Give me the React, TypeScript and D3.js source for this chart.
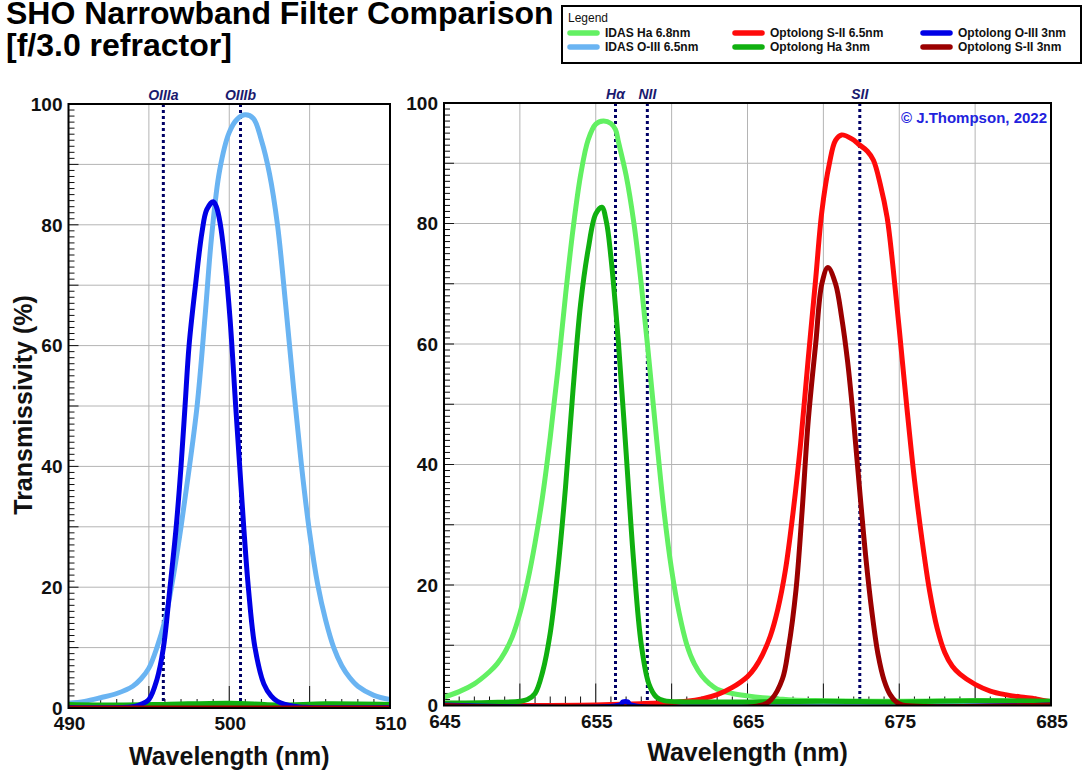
import React from 'react';
import * as d3 from 'd3';

type Pt = [number, number];

// ---------- DATA (wavelength nm, transmissivity %) ----------
const idasHa68: Pt[] = [
  [490, 0.3], [500, 0.3], [510, 0.3],
  [645, 1.4], [646, 2.3], [647, 3.6], [648, 5.6], [648.5, 6.9], [649, 8.8], [649.5, 11.4], [650, 15.3],
  [650.5, 20.5], [651, 27], [651.5, 34.8], [652, 44.5], [652.5, 55.6], [653, 67.9], [653.5, 79], [654, 88],
  [654.5, 93.9], [655, 96.5], [655.5, 97], [656, 96.6], [656.3, 95.6], [656.5, 93.5], [657, 88], [657.5, 80.3],
  [658, 69.9], [658.5, 57.5], [659, 44.5], [659.5, 32.2], [660, 22.5], [660.5, 15.3], [661, 10.1], [661.5, 6.9],
  [662, 4.9], [662.5, 3.6], [663, 2.7], [664, 2], [665, 1.6], [666, 1.3], [667, 1.1], [668, 0.9], [670, 0.8],
  [675, 0.7], [680, 0.8], [685, 0.7],
];

const idasOIII65: Pt[] = [
  [490, 0.8], [491, 1.1], [492, 1.7], [493, 2.4], [494, 3.6], [494.5, 4.8], [495, 6.6], [495.5, 10],
  [496, 14.5], [496.5, 21.5], [497, 30], [497.5, 39.5], [498, 50], [498.5, 65], [498.9, 78], [499.4, 89],
  [500, 95.3], [500.5, 97.5], [501, 98.2], [501.5, 97.6], [502, 94], [502.5, 88.5], [503, 80], [503.5, 67],
  [504, 53], [504.5, 40], [505, 29], [505.5, 20.5], [506, 14.5], [506.5, 10], [507, 7], [507.5, 5],
  [508, 3.6], [509, 2.1], [510, 1.4],
  [645, 0], [685, 0],
];

const optSII65: Pt[] = [
  [490, 0], [510, 0],
  [645, 0], [652, 0], [655, 0.1], [658, 0.3], [660, 0.5], [661, 0.7], [662, 1.1], [663, 1.8], [664, 3],
  [665, 4.8], [665.5, 6.3], [666, 8.5], [666.5, 11.5], [667, 16], [667.5, 22.5], [668, 32], [668.5, 43.5],
  [669, 57.5], [669.5, 71], [669.9, 82], [670.4, 90], [670.8, 93.8], [671.2, 94.7], [671.9, 94], [672.3, 93.2],
  [672.9, 92], [673.3, 90.5], [673.75, 86.5], [674.2, 81], [674.6, 72.5], [675, 62.5], [675.5, 49.5],
  [676, 37.5], [676.5, 27.5], [677, 19], [677.5, 12.8], [678, 8.8], [678.5, 6.5], [679, 5.2], [680, 3.5],
  [681, 2.4], [682, 1.8], [683, 1.4], [684, 1.1], [685, 0.6],
];

const optHa3: Pt[] = [
  [490, 0.6], [493, 0.5], [496, 0.6], [500, 0.8], [503, 0.5], [506, 0.7], [510, 0.6],
  [645, 0.4], [648, 0.5], [650, 0.7], [650.5, 1], [651, 2], [651.5, 5.6], [652, 12], [652.5, 22.5], [653, 36],
  [653.5, 52.3], [654, 66.6], [654.5, 75.7], [655, 81.6], [655.4, 82.7], [655.7, 80.3], [656, 74.4],
  [656.5, 60], [657, 42], [657.5, 23.8], [658, 10.1], [658.5, 3.6], [659, 1.4], [659.5, 0.8], [661, 0.6],
  [665, 0.6], [670, 0.7], [675, 0.6], [680, 0.8], [685, 0.7],
];

const optOIII3: Pt[] = [
  [490, 0.1], [494, 0.2], [494.5, 0.6], [495, 1.4], [495.5, 4.7], [495.9, 9.9], [496.3, 19.6], [496.7, 30],
  [497, 40], [497.25, 50], [497.5, 60], [497.9, 70], [498.3, 78.7], [498.6, 82.5], [499, 83.8], [499.2, 83],
  [499.45, 80], [499.75, 73.5], [500.05, 64.4], [500.4, 50], [500.65, 40], [500.9, 30], [501.2, 19.6],
  [501.6, 10], [502.15, 4], [502.6, 2], [503, 1.1], [504, 0.3], [505, 0.1], [510, 0.1],
  [645, 0.1], [656.6, 0.1], [656.8, 0.6], [657.1, 0.6], [657.3, 0.1], [685, 0.1],
];

const optSII3: Pt[] = [
  [490, 0], [510, 0],
  [645, 0], [666, 0.1], [666.6, 1.1], [667.3, 4.4], [667.7, 9.5], [668.2, 19.3], [668.6, 32.3], [669, 47.2],
  [669.5, 60.2], [669.9, 70], [670.3, 72.7], [670.8, 70], [671.2, 64.5], [671.6, 57], [672, 47],
  [672.4, 35.5], [672.8, 24.5], [673.2, 15.5], [673.6, 8.5], [674, 4.2], [674.4, 1.8], [674.8, 0.6],
  [675.2, 0.1], [685, 0.1],
];

const seriesNames = ['IDAS Ha 6.8nm', 'IDAS O-III 6.5nm', 'Optolong S-II 6.5nm', 'Optolong Ha 3nm', 'Optolong O-III 3nm', 'Optolong S-II 3nm'];
const seriesData = [idasHa68, idasOIII65, optSII65, optHa3, optOIII3, optSII3];
const seriesColors = ['#62f062', '#6ab4f2', '#ff0a0a', '#10b010', '#0000e6', '#9b0000'];

const leftTicksX = [490, 500, 510];
const rightTicksX = [645, 655, 665, 675, 685];
const yTicks = [0, 20, 40, 60, 80, 100];
const leftRefNames = ['OIIIa', 'OIIIb'];
const leftRefNm = [495.9, 500.7];
const rightRefNames = ['Hα', 'NII', 'SII'];
const rightRefNm = [656.3, 658.4, 672.4];

const FONT = "'Liberation Sans', Arial, Helvetica, sans-serif";
const NAVY = '#000066';

interface PanelCfg {
  id: string;
  x0: number; x1: number; y0: number; y1: number;
  domain: [number, number];
  ticks: number[];
  refNames: string[];
  refNm: number[];
  labelY: number;
  copyright?: boolean;
}

const panelCfgs: PanelCfg[] = [
  { id: 'L', x0: 68.5, x1: 390, y0: 104, y1: 708, domain: [490, 510], ticks: leftTicksX, refNames: leftRefNames, refNm: leftRefNm, labelY: 765 },
  { id: 'R', x0: 444, x1: 1051, y0: 103, y1: 705.5, domain: [645, 685], ticks: rightTicksX, refNames: rightRefNames, refNm: rightRefNm, labelY: 761, copyright: true },
];

function RefLabel({ name, x, y }: { name: string; x: number; y: number }) {
  return (
    <text x={x} y={y} textAnchor="middle" fontFamily={FONT} fontSize={14} fontWeight="bold" fontStyle="italic" fill="#1a1a6e">
      {name}
    </text>
  );
}

function Panel({ cfg }: { cfg: PanelCfg }) {
  const x = d3.scaleLinear().domain(cfg.domain).range([cfg.x0, cfg.x1]);
  const y = d3.scaleLinear().domain([0, 100]).range([cfg.y1, cfg.y0]);
  const [d0, d1] = cfg.domain;
  const gridX = d3.range(d0 + 5, d1, 5);
  const gridY = d3.range(10, 100, 10);
  const minorX = d3.range(d0 + 1, d1, 1);
  const minorY = d3.range(1, 100, 1);
  const line = d3.line<Pt>().x(d => x(d[0])).y(d => y(d[1])).curve(d3.curveCatmullRom.alpha(0.5));
  const clipId = 'clip' + cfg.id;
  return (
    <g>
      <defs>
        <clipPath id={clipId}>
          <rect x={cfg.x0} y={cfg.y0} width={cfg.x1 - cfg.x0} height={cfg.y1 - cfg.y0} />
        </clipPath>
      </defs>
      <rect x={cfg.x0} y={cfg.y0} width={cfg.x1 - cfg.x0} height={cfg.y1 - cfg.y0} fill="#fff" />
      {gridY.map(v => (
        <line key={'gy' + v} x1={cfg.x0} x2={cfg.x1} y1={y(v)} y2={y(v)} stroke="#b4b4b4" strokeWidth={1} />
      ))}
      {gridX.map(v => (
        <line key={'gx' + v} x1={x(v)} x2={x(v)} y1={cfg.y0} y2={cfg.y1} stroke="#b4b4b4" strokeWidth={1} />
      ))}
      {minorX.map(v => (
        <line key={'mx' + v} x1={x(v)} x2={x(v)} y1={cfg.y1} y2={cfg.y1 - (v % 5 === 0 ? 22 : 9)} stroke="#111" strokeWidth={1} />
      ))}
      {minorY.map(v => (
        <line key={'my' + v} x1={cfg.x0} x2={cfg.x0 + (v % 10 === 0 ? 10 : 6)} y1={y(v)} y2={y(v)} stroke="#111" strokeWidth={1} />
      ))}
      <g clipPath={`url(#${clipId})`}>
        {cfg.refNm.map((nm, i) => (
          <line key={'ref' + i} x1={x(nm)} x2={x(nm)} y1={cfg.y0} y2={cfg.y1} stroke={NAVY} strokeWidth={3} strokeDasharray="3 3" />
        ))}
        {seriesData.map((s, i) => (
          <path key={'s' + i} d={line(s.filter(p => p[0] >= d0 - 1 && p[0] <= d1 + 1)) || ''} fill="none"
            stroke={seriesColors[i]} strokeWidth={5} strokeLinejoin="round" strokeLinecap="round" />
        ))}
      </g>
      <rect x={cfg.x0} y={cfg.y0} width={cfg.x1 - cfg.x0} height={cfg.y1 - cfg.y0} fill="none" stroke="#000" strokeWidth={2} />
      {cfg.refNm.map((nm, i) => (
        <RefLabel key={'rl' + i} name={cfg.refNames[i]} x={x(nm)} y={cfg.y0 - 4} />
      ))}
      {yTicks.map(v => (
        <text key={'yl' + v} x={cfg.x0 - 6} y={y(v)} dy="0.36em" textAnchor="end" fontFamily={FONT} fontSize={19} fontWeight="bold" fill="#111">
          {v}
        </text>
      ))}
      {cfg.ticks.map(v => (
        <text key={'xl' + v} x={x(v) + 1} y={cfg.y1 + 22} textAnchor="middle" fontFamily={FONT} fontSize={19} fontWeight="bold" fill="#111">
          {v}
        </text>
      ))}
      <text x={(cfg.x0 + cfg.x1) / 2} y={cfg.labelY} textAnchor="middle" fontFamily={FONT} fontSize={25} fontWeight="bold" fill="#111">
        Wavelength (nm)
      </text>
      {cfg.copyright && (
        <text x={cfg.x1 - 4} y={cfg.y0 + 20} textAnchor="end" fontFamily={FONT} fontSize={15} fontWeight="bold" fill="#2222dd">
          © J.Thompson, 2022
        </text>
      )}
    </g>
  );
}

function Legend() {
  const colSwatch = [567, 732, 920];
  const colText = [605, 770, 958];
  const rowY = [33, 47];
  return (
    <g>
      <rect x={562} y={6} width={519} height={57} fill="#fff" stroke="#000" strokeWidth={2} />
      <text x={568} y={22} fontFamily={FONT} fontSize={12} fill="#111">Legend</text>
      {seriesNames.map((name, i) => {
        const c = Math.floor(i / 2);
        const r = i % 2;
        return (
          <g key={name}>
            <line x1={colSwatch[c] + 3} x2={colSwatch[c] + 30} y1={rowY[r]} y2={rowY[r]} stroke={seriesColors[i]} strokeWidth={5.5} strokeLinecap="round" />
            <text x={colText[c]} y={rowY[r]} dy="0.36em" fontFamily={FONT} fontSize={12} fontWeight="bold" fill="#111">{name}</text>
          </g>
        );
      })}
    </g>
  );
}

export default function App() {
  return (
    <svg width={1084} height={774} style={{ position: 'absolute', left: 0, top: 0, display: 'block', background: '#fff' }}>
      <rect x={0} y={0} width={1084} height={774} fill="#fff" />
      <text x={6} y={24} fontFamily={FONT} fontSize={32} fontWeight="bold" fill="#000">SHO Narrowband Filter Comparison</text>
      <text x={6} y={56} fontFamily={FONT} fontSize={32} fontWeight="bold" fill="#000">[f/3.0 refractor]</text>
      <Legend />
      {panelCfgs.map(cfg => <Panel key={cfg.id} cfg={cfg} />)}
      <text transform="translate(32,405) rotate(-90)" textAnchor="middle" fontFamily={FONT} fontSize={25} fontWeight="bold" fill="#111">
        Transmissivity (%)
      </text>
    </svg>
  );
}
